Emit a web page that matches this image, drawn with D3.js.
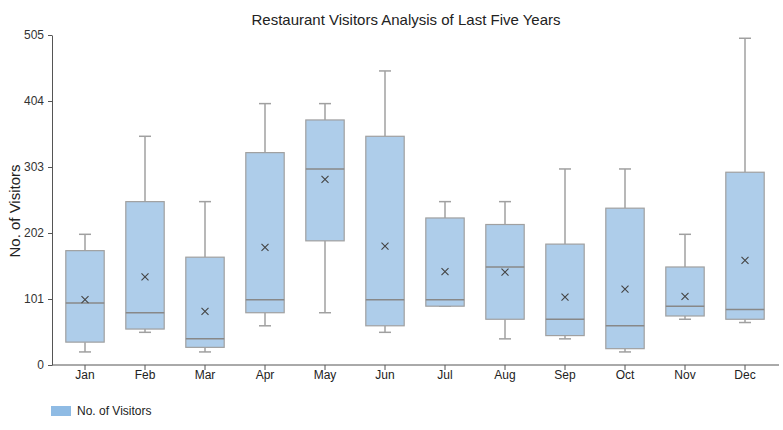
<!DOCTYPE html>
<html>
<head>
<meta charset="utf-8">
<script src="https://cdn.jsdelivr.net/npm/d3@7/dist/d3.min.js"></script>
<style>
  body { margin: 0; background: #fff; }
  svg { display: block; font-family: "Liberation Sans", Arial, sans-serif; }
</style>
</head>
<body>
<svg id="chart" width="783" height="430"></svg>
<script>
const months = ["Jan","Feb","Mar","Apr","May","Jun","Jul","Aug","Sep","Oct","Nov","Dec"];
const minVals    = [20, 50, 20, 60, 80, 50, 90, 40, 40, 20, 70, 65];
const q1Vals     = [35, 55, 27, 80, 190, 60, 90, 70, 45, 25, 75, 70];
const medianVals = [95, 80, 40, 100, 300, 100, 100, 150, 70, 60, 90, 85];
const q3Vals     = [175, 250, 165, 325, 375, 350, 225, 215, 185, 240, 150, 295];
const maxVals    = [200, 350, 250, 400, 400, 450, 250, 250, 300, 300, 200, 500];
const meanVals   = [100, 135, 82, 180, 284, 182, 143, 142, 104, 116, 105, 160];
const yTicks = [0, 101, 202, 303, 404, 505];

(function () {
const svg = d3.select("#chart");
const axisLeftX = 52, axisRightX = 779, plotTop = 35, plotBottom = 365;

const x = d3.scaleBand().domain(months).range([55, 775]).paddingInner(0.36).paddingOuter(0.18);
const y = d3.scaleLinear().domain([0, 505]).range([plotBottom, plotTop]);

const data = months.map((m, i) => ({
  m, min: minVals[i], q1: q1Vals[i], med: medianVals[i], q3: q3Vals[i], max: maxVals[i], mean: meanVals[i]
}));

// title
svg.append("text").attr("x", 406).attr("y", 25).attr("text-anchor", "middle")
  .attr("font-size", 15).attr("fill", "#222").text("Restaurant Visitors Analysis of Last Five Years");

// y axis
const yAxis = svg.append("g").attr("transform", `translate(${axisLeftX},0)`)
  .call(d3.axisLeft(y).tickValues(yTicks).tickSize(4).tickSizeOuter(0));
yAxis.select(".domain").attr("stroke", "#555");
yAxis.selectAll(".tick line").attr("stroke", "#555");
yAxis.selectAll(".tick text").attr("font-size", 12).attr("fill", "#333").attr("x", -8)
  .attr("font-family", "Liberation Sans, Arial, sans-serif");

// x axis
const xAxis = svg.append("g").attr("transform", `translate(0,${plotBottom})`)
  .call(d3.axisBottom(x).tickSize(5).tickSizeOuter(0));
xAxis.select(".domain").remove();
xAxis.append("line").attr("x1", axisLeftX).attr("x2", axisRightX).attr("y1", 0).attr("y2", 0)
  .attr("stroke", "#555");
xAxis.selectAll(".tick line").attr("stroke", "#555");
xAxis.selectAll(".tick text").attr("font-size", 12).attr("fill", "#222").attr("dy", "0.5em")
  .attr("font-family", "Liberation Sans, Arial, sans-serif");

// y label
svg.append("text").attr("transform", `translate(20,211) rotate(-90)`)
  .attr("text-anchor", "middle").attr("font-size", 15).attr("fill", "#222").text("No. of Visitors");

// boxes
const g = svg.append("g");
const bw = x.bandwidth();
const capW = 12;
data.forEach(d => {
  const cx = x(d.m) + bw / 2;
  g.append("line").attr("x1", cx).attr("x2", cx).attr("y1", y(d.max)).attr("y2", y(d.q3))
    .attr("stroke", "#a0a0a0").attr("stroke-width", 1.5);
  g.append("line").attr("x1", cx).attr("x2", cx).attr("y1", y(d.q1)).attr("y2", y(d.min))
    .attr("stroke", "#a0a0a0").attr("stroke-width", 1.5);
  g.append("line").attr("x1", cx - capW / 2).attr("x2", cx + capW / 2).attr("y1", y(d.max)).attr("y2", y(d.max))
    .attr("stroke", "#a0a0a0").attr("stroke-width", 1.5);
  g.append("line").attr("x1", cx - capW / 2).attr("x2", cx + capW / 2).attr("y1", y(d.min)).attr("y2", y(d.min))
    .attr("stroke", "#a0a0a0").attr("stroke-width", 1.5);
  g.append("rect").attr("x", x(d.m)).attr("y", y(d.q3)).attr("width", bw).attr("height", y(d.q1) - y(d.q3))
    .attr("fill", "#aecdea").attr("stroke", "#a0a0a0").attr("stroke-width", 1.2);
  g.append("line").attr("x1", x(d.m)).attr("x2", x(d.m) + bw).attr("y1", y(d.med)).attr("y2", y(d.med))
    .attr("stroke", "#888").attr("stroke-width", 1.5);
  const my = y(d.mean), s = 3.5;
  g.append("path").attr("d", `M${cx - s},${my - s}L${cx + s},${my + s}M${cx - s},${my + s}L${cx + s},${my - s}`)
    .attr("stroke", "#444").attr("stroke-width", 1.1).attr("fill", "none");
});

// legend
svg.append("rect").attr("x", 51).attr("y", 406).attr("width", 20).attr("height", 10).attr("fill", "#8fbbe4");
svg.append("text").attr("x", 77).attr("y", 415).attr("font-size", 12).attr("fill", "#222").text("No. of Visitors");
})();
</script>
</body>
</html>
